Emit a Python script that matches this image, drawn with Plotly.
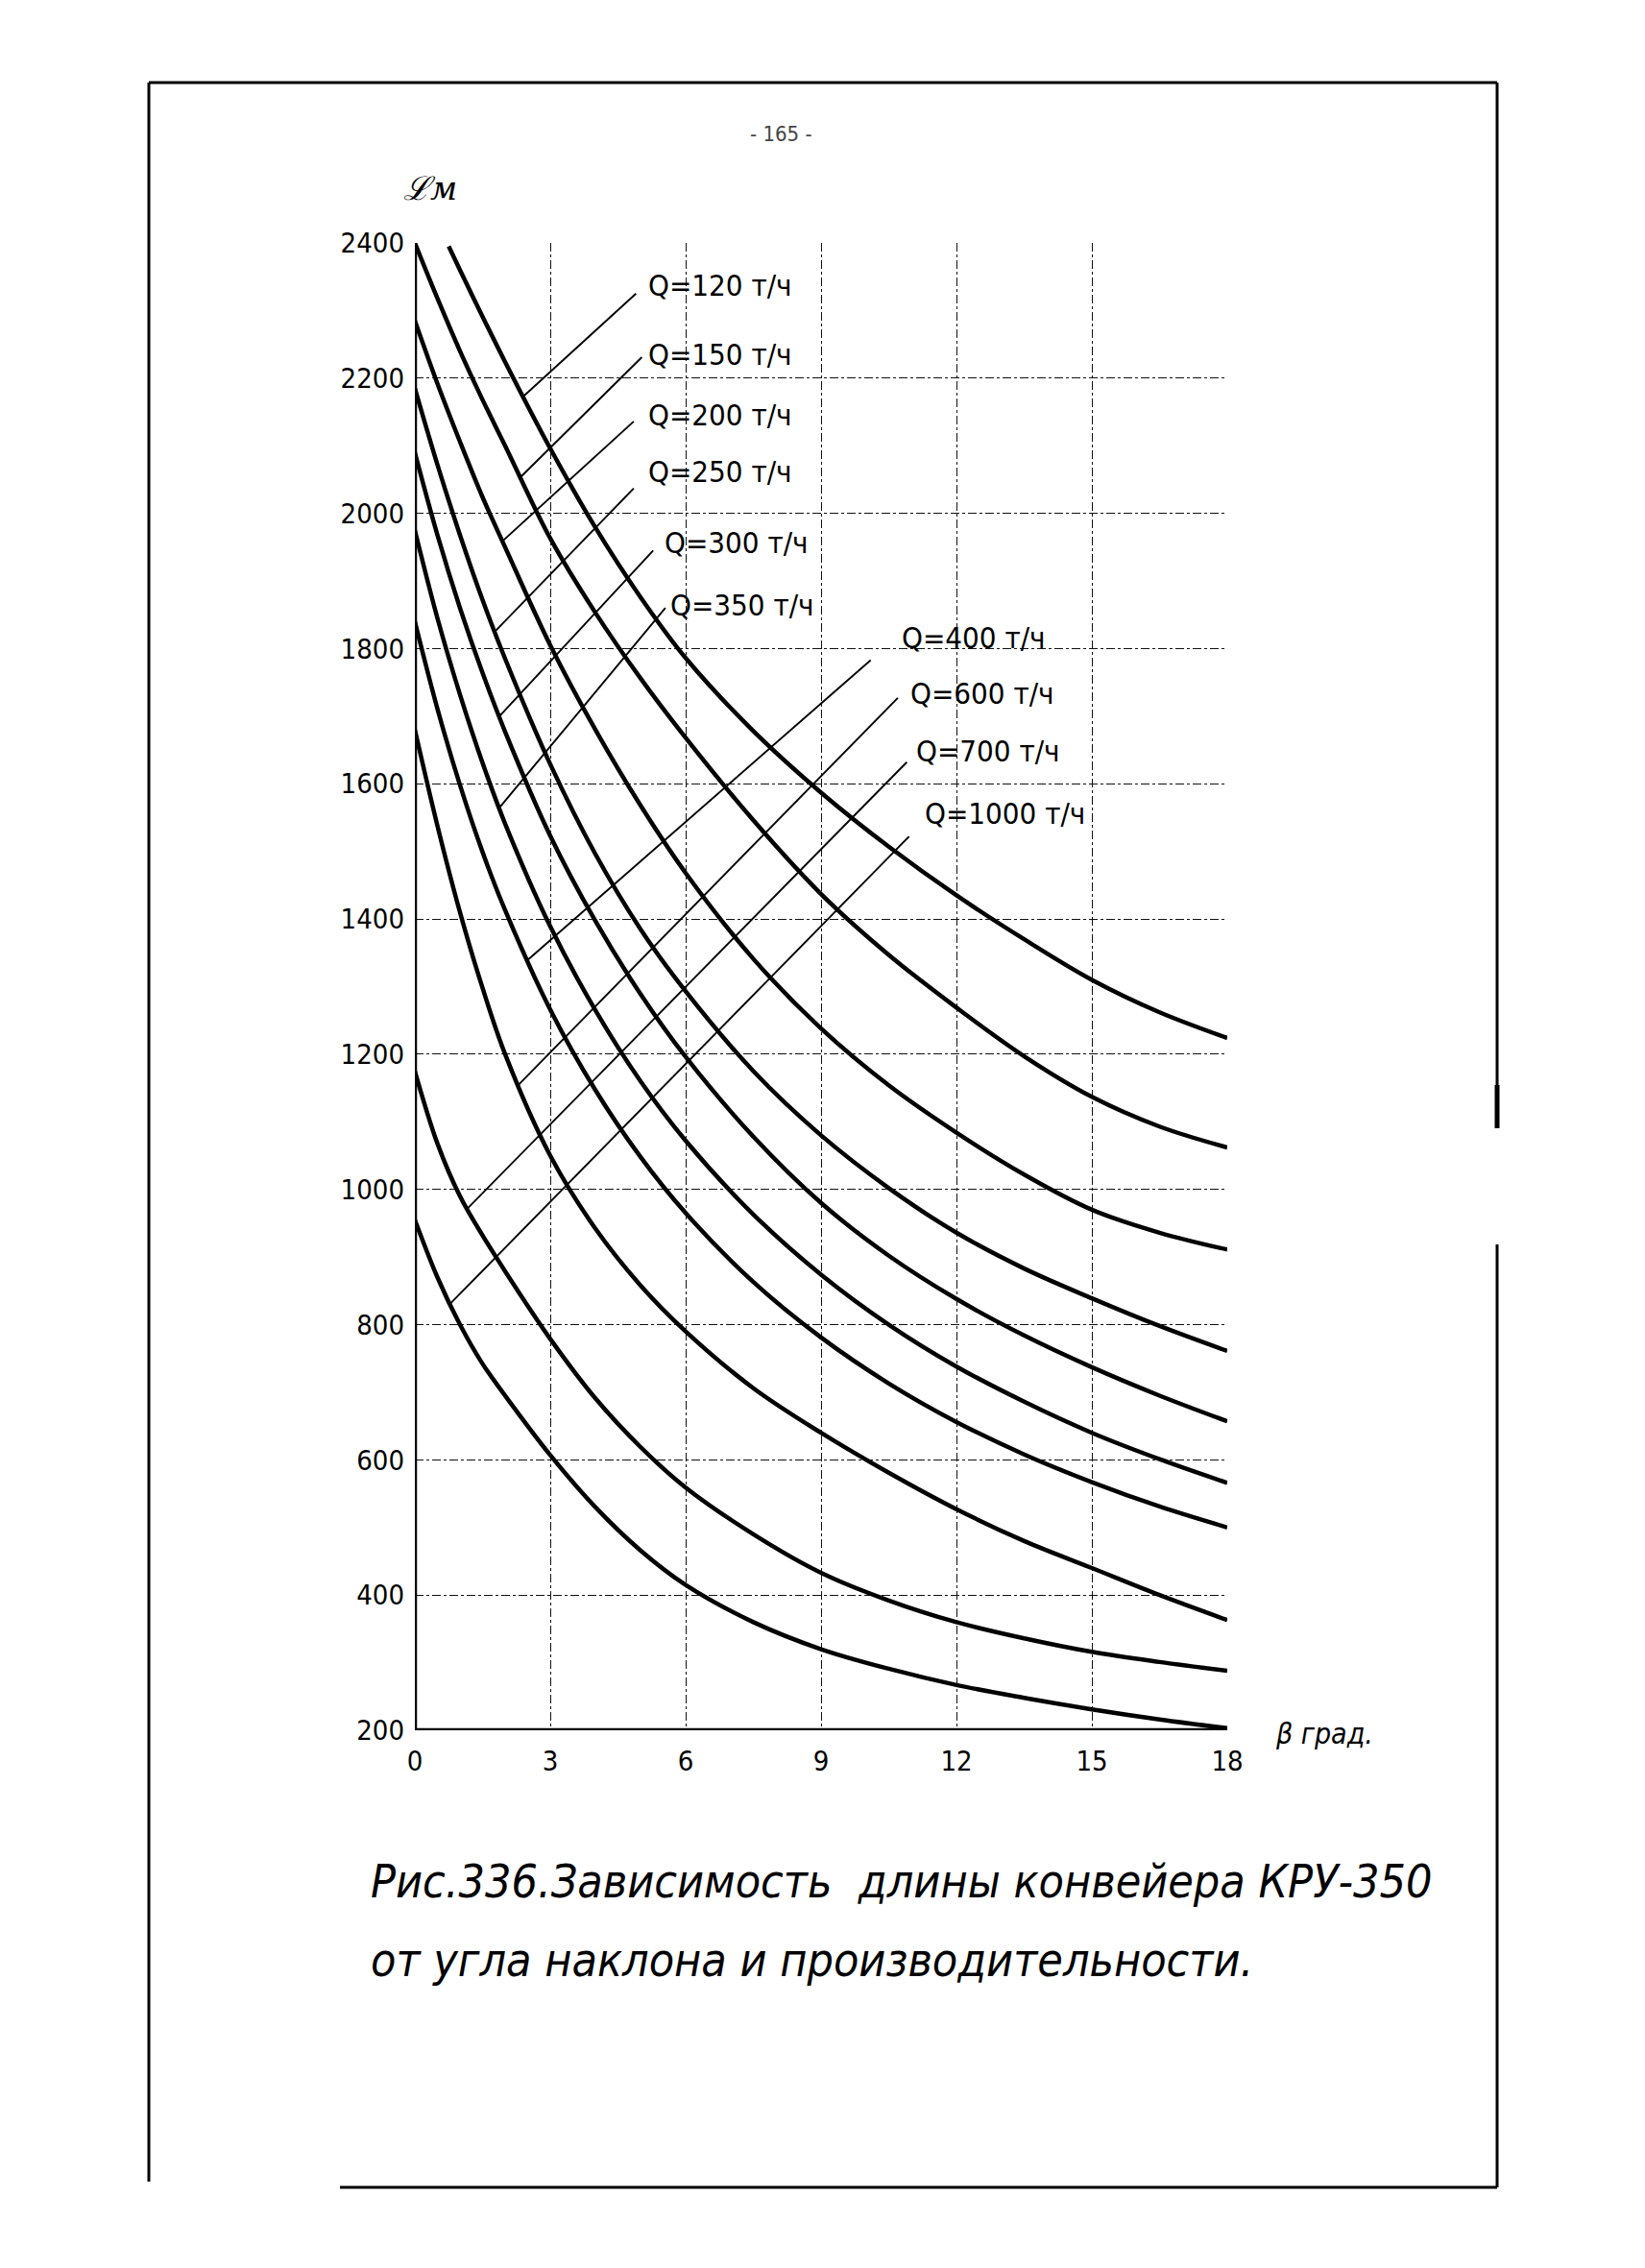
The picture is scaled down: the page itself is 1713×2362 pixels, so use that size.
import numpy as np
import plotly.graph_objects as go

W, H = 1713, 2362
ML, MR, MT, MB = 432, 435, 253, 560
PW, PH = W - ML - MR, H - MT - MB


def px(x):
    return (x - ML) / PW


def py(y):
    return (H - MB - y) / PH


# ---- data (angle beta, degrees; conveyor length L, m) ----
beta = [0, 0.5, 1, 1.5, 2, 3, 4, 5, 6, 7.5, 9, 10.5, 12, 13.5, 15, 16.5, 18]
beta_q120 = [0.75, 1, 1.5, 2, 3, 4, 5, 6, 7.5, 9, 10.5, 12, 13.5, 15, 16.5, 18]
L_q120 = [2395, 2360, 2291, 2224, 2096, 1979, 1876, 1786, 1678, 1587, 1507, 1435, 1370, 1310, 1262, 1224]
L_q150 = [2400, 2318, 2240, 2168, 2100, 1963, 1853, 1756, 1668, 1546, 1437, 1347, 1269, 1197, 1137, 1093, 1062]
L_q200 = [2285, 2192, 2106, 2024, 1950, 1805, 1680, 1568, 1468, 1341, 1238, 1154, 1084, 1022, 970, 936, 911]
L_q250 = [2185, 2072, 1968, 1872, 1785, 1629, 1496, 1385, 1293, 1175, 1080, 1002, 936, 883, 839, 798, 761]
L_q300 = [2090, 1968, 1860, 1764, 1677, 1523, 1397, 1289, 1196, 1078, 980, 902, 838, 784, 737, 695, 657]
L_q350 = [1975, 1845, 1732, 1631, 1541, 1389, 1265, 1160, 1072, 963, 874, 800, 738, 686, 640, 601, 566]
L_q400 = [1840, 1711, 1598, 1499, 1413, 1266, 1147, 1048, 965, 863, 781, 713, 656, 608, 567, 531, 500]
L_q600 = [1680, 1538, 1410, 1298, 1200, 1050, 942, 858, 790, 706, 640, 581, 527, 480, 440, 400, 363]
L_q700 = [1175, 1068, 990, 932, 879, 779, 691, 619, 559, 490, 433, 392, 360, 336, 316, 301, 288]
L_q1000 = [955, 870, 800, 742, 695, 607, 530, 466, 415, 360, 320, 291, 267, 248, 231, 216, 203]

series_labels = ["Q=120 т/ч", "Q=150 т/ч", "Q=200 т/ч", "Q=250 т/ч", "Q=300 т/ч",
                 "Q=350 т/ч", "Q=400 т/ч", "Q=600 т/ч", "Q=700 т/ч", "Q=1000 т/ч"]
series = [(beta_q120, L_q120), (beta, L_q150), (beta, L_q200), (beta, L_q250), (beta, L_q300),
          (beta, L_q350), (beta, L_q400), (beta, L_q600), (beta, L_q700), (beta, L_q1000)]

x_ticks = [0, 3, 6, 9, 12, 15, 18]
y_ticks = [200, 400, 600, 800, 1000, 1200, 1400, 1600, 1800, 2000, 2200, 2400]

# label placement (data coords) and leader lines
label_beta = [5.13, 5.13, 5.13, 5.13, 5.49, 5.62, 10.74, 10.94, 11.06, 11.26]
label_L = [2337, 2235, 2146, 2062, 1957, 1865, 1816, 1734, 1649, 1556]
leader_start_beta = [4.9, 5.03, 4.85, 4.85, 5.28, 5.55, 10.1, 10.7, 10.9, 10.95]
leader_start_L = [2325, 2231, 2136, 2037, 1945, 1860, 1783, 1727, 1632, 1522]
leader_end_beta = [2.4, 2.34, 1.94, 1.77, 1.87, 1.87, 2.5, 2.3, 1.16, 0.78]

FONT_C = "DejaVu Sans Condensed, Liberation Sans Narrow, Roboto Condensed, Arial Narrow, DejaVu Sans, sans-serif"

fig = go.Figure()
for (bx, ly), name in zip(series, series_labels):
    fig.add_trace(go.Scatter(x=bx, y=ly, mode="lines", name=name,
                             line=dict(color="black", width=4.5, shape="spline", smoothing=1.0),
                             cliponaxis=False, showlegend=False, hoverinfo="x+y+name"))

shapes = []
# leader lines
for i, (bx, ly) in enumerate(series):
    be = leader_end_beta[i]
    le = float(np.interp(be, bx, ly))
    shapes.append(dict(type="line", xref="x", yref="y",
                       x0=leader_start_beta[i], y0=leader_start_L[i], x1=be, y1=le,
                       line=dict(color="black", width=1.9)))

# axes lines
shapes.append(dict(type="line", xref="x", yref="y", x0=0, y0=200, x1=18.5, y1=200,
                   line=dict(color="black", width=4.5)))
shapes.append(dict(type="line", xref="x", yref="y", x0=0, y0=200, x1=0, y1=2400,
                   line=dict(color="black", width=4.5)))

# page border
bl = dict(color="black", width=3)
shapes += [
    dict(type="line", xref="paper", yref="paper", x0=px(155), y0=py(86), x1=px(1559), y1=py(86), line=bl),
    dict(type="line", xref="paper", yref="paper", x0=px(155), y0=py(86), x1=px(155), y1=py(2272), line=bl),
    dict(type="line", xref="paper", yref="paper", x0=px(354), y0=py(2278), x1=px(1559), y1=py(2278), line=bl),
    dict(type="line", xref="paper", yref="paper", x0=px(1559), y0=py(86), x1=px(1559), y1=py(1175), line=bl),
    dict(type="line", xref="paper", yref="paper", x0=px(1559), y0=py(1130), x1=px(1559), y1=py(1175),
         line=dict(color="black", width=5)),
    dict(type="line", xref="paper", yref="paper", x0=px(1559), y0=py(1296), x1=px(1559), y1=py(2278), line=bl),
]

annotations = []
for i, t in enumerate(series_labels):
    annotations.append(dict(x=label_beta[i], y=label_L[i], xref="x", yref="y", text=t,
                            showarrow=False, xanchor="left", yanchor="middle",
                            font=dict(family=FONT_C, size=31, color="black")))

annotations += [
    dict(x=px(448), y=py(196), xref="paper", yref="paper", text="ℒм", showarrow=False,
         xanchor="center", yanchor="middle",
         font=dict(family="DejaVu Serif, serif", size=34, color="black", style="italic")),
    dict(x=px(1326), y=py(1805), xref="paper", yref="paper", text="β град.", showarrow=False,
         xanchor="left", yanchor="middle",
         font=dict(family=FONT_C, size=30, color="black", style="italic")),
    dict(x=px(813), y=py(140), xref="paper", yref="paper", text="- 165 -", showarrow=False,
         xanchor="center", yanchor="middle",
         font=dict(family=FONT_C, size=22, color="#444")),
    dict(x=px(384), y=py(1959), xref="paper", yref="paper",
         text="Рис.336.Зависимость  длины конвейера КРУ-350", showarrow=False,
         xanchor="left", yanchor="middle",
         font=dict(family=FONT_C, size=48, color="black", style="italic")),
    dict(x=px(384), y=py(2041), xref="paper", yref="paper",
         text="от угла наклона и производительности.", showarrow=False,
         xanchor="left", yanchor="middle",
         font=dict(family=FONT_C, size=48, color="black", style="italic")),
]

fig.update_layout(
    width=W, height=H,
    margin=dict(l=ML, r=MR, t=MT, b=MB, pad=0),
    paper_bgcolor="white", plot_bgcolor="white",
    shapes=shapes, annotations=annotations,
    showlegend=False,
    xaxis=dict(range=[0, 18], tickvals=x_ticks, ticktext=[str(v) for v in x_ticks],
               showgrid=True, gridcolor="#111", gridwidth=1.2, griddash="dashdot",
               zeroline=False, showline=False, ticks="", ticklabelstandoff=12,
               tickfont=dict(family=FONT_C, size=29, color="black")),
    yaxis=dict(range=[200, 2400], tickvals=y_ticks, ticktext=[str(v) for v in y_ticks],
               showgrid=True, gridcolor="#111", gridwidth=1.2, griddash="dashdot",
               zeroline=False, showline=False, ticks="", ticklabelstandoff=10,
               tickfont=dict(family=FONT_C, size=29, color="black")),
)

fig.write_html("out.html")
